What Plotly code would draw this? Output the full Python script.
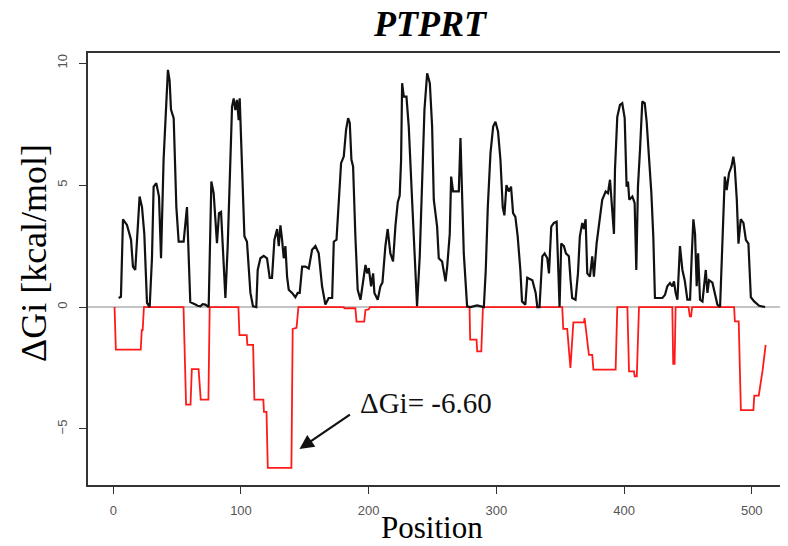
import plotly.graph_objects as go

# Black curve: positive Delta Gi profile (position, value)
black_pos = [4.2, 6, 7.6, 10.7, 13.9, 15.4, 17.2, 18.5, 20.6, 22.5, 24.3, 26.4, 28.5, 30.3, 31.6, 33.7, 35.8, 37.4,
             39.4, 41.0, 42.8, 44.1, 45.2, 47.3, 49.4, 51.2, 55.1, 57.7, 59.0, 60.3, 64.3, 66, 68.2, 70, 72.1, 74.7,
             76.8, 78.6, 81.2, 82.8, 84.4, 86.0, 87.8, 89.6, 91.7, 93.0, 94.3, 95.6, 96.9, 98.2, 99.0, 100.8, 102.7,
             104.7, 107.4, 109.4, 112.0, 113.1, 115.2, 117.8, 120.4, 122.5, 124.3, 126.2, 128.3, 129.6, 130.9, 132.2,
             133.5, 134.8, 136.1, 137.4, 140.0, 142.6, 144.4, 146.0, 147.9, 150.5, 153.1, 155.7, 158.3, 160.9, 163.5,
             166.1, 168.7, 171.4, 172.7, 174.8, 178.4, 180.5, 182.3, 183.9, 185.2, 186.5, 187.8, 189.6, 191.4, 193.6,
             195.6, 197.5, 198.8, 200.1, 201.9, 203.5, 204.5, 207.1, 209.2, 210.8, 213.1, 214.9, 217.0, 219.1, 221.0,
             222.8, 224.3, 225.4, 226.2, 227.5, 229.6, 231.4, 234.0, 236.6, 237.9, 240.0, 241.9, 243.7, 245.8, 247.9,
             249.7, 251.0, 253.6, 254.9, 257.5, 260.2, 261.5, 263.5, 264.6, 266.1, 268.0, 270.6, 271.9, 272.9, 274.5,
             277.1, 279.7, 284.9, 290.2, 291.7, 293.3, 295.4, 297.5, 299.3, 301.3, 303.2, 305.0, 306.3, 307.9, 309.7,
             311.5, 313.1, 314.9, 316.7, 318.8, 320.1, 322.7, 324.2, 328.2, 330.8, 332.1, 333.8, 336.0, 337.8, 339.9,
             341.2, 343.0, 345.1, 347.2, 348.2, 349.5, 350.8, 352.9, 354.5, 356.8, 358.1, 359.4, 362.0, 363.9, 365.4,
             367.3, 368.6, 369.9, 371.2, 373.3, 375.1, 376.4, 378.5, 380.3, 382.9, 385.6, 387.4, 389.0, 390.3, 392.1,
             392.9, 394.7, 396.8, 398.6, 400.5, 402.0, 403.1, 404.1, 406.5, 408.3, 409.6, 410.9, 412.5, 414.3, 416.2,
             417.7, 419.5, 421.4, 422.9, 424.2, 427.4, 430.0, 432.1, 433.9, 436.0, 437.8, 439.1, 440.4, 441.8, 443.8,
             445.7, 447.5, 449.6, 451.7, 453.0, 454.3, 455.6, 456.9, 458.0, 459.5, 461.4, 464.0, 465.3, 466.6, 469.2,
             471.1, 473.1, 475.2, 477.0, 478.9, 480.4, 482.2, 484.1, 485.6, 486.7, 488.3, 489.6, 491.4, 493.5, 495.4,
             497.4, 499.3, 501.9, 505.8, 510.5]
black_val = [0.37, 0.42, 3.6, 3.37, 2.76, 1.66, 1.52, 2.76, 4.53, 4.1, 3.0, 0.17, 0.0, 2.0, 4.94, 5.08, 4.53, 2.0,
             6.04, 7.8, 9.73, 9.3, 8.1, 7.75, 4.1, 2.68, 2.68, 4.1, 2.0, 0.2, 0.1, 0.05, 0.03, 0.12, 0.1, 0.0,
             5.15, 4.67, 2.62, 3.85, 3.9, 1.94, 0.37, 2.5, 6.72, 8.22, 8.56, 8.08, 8.5, 7.67, 8.56, 6.04, 2.9,
             2.68, 0.58, 0.03, 0.0, 1.52, 2.0, 2.1, 2.0, 1.2, 1.2, 2.76, 3.2, 2.5, 3.35, 2.76,
             2.0, 2.5, 1.25, 0.71, 0.58, 0.4, 0.58, 0.58, 1.66, 1.66, 1.58, 2.35, 2.5, 2.2, 0.85,
             0.1, 0.37, 0.37, 2.68, 2.76, 5.9, 6.17, 7.27, 7.75, 7.55, 6.04, 5.77, 2.9, 0.71, 0.3,
             1.12, 1.73, 1.38, 1.6, 0.85, 1.38, 0.58, 0.3, 0.85, 1.0, 2.5, 3.2, 2.2, 1.87, 3.35,
             4.3, 4.57, 6.04, 9.18, 8.63, 8.63, 7.4, 4.4, 1.38, 0.03, 2.08, 5.35, 8.09, 9.59, 9.18,
             7.4, 4.4, 3.3, 2.0, 1.87, 1.05, 1.66, 3.0, 5.35, 4.74, 4.74, 4.74, 6.93, 4.67, 2.2,
             0.03, 0.0, 0.07, 0.0, 1.52, 4.1, 6.31, 7.4, 7.6, 7.2, 6.04, 4.1, 3.76, 5.0, 4.74,
             4.94, 3.85, 3.7, 2.9, 1.52, 0.23, 0.1, 1.2, 1.1, 0.58, 0.0, 0.0, 2.08, 2.2, 2.0,
             1.38, 3.3, 3.45, 3.5, 2.0, 0.0, 2.6, 2.5, 2.2, 2.08, 1.12, 0.37, 0.3, 1.38, 2.9,
             3.45, 3.2, 3.6, 1.38, 1.25, 2.08, 1.25, 2.6, 3.45, 4.4, 4.74, 4.67, 5.22, 4.4, 3.0,
             5.63, 7.8, 8.29, 8.36, 7.75, 4.94, 5.15, 4.4, 4.53, 4.27, 1.52, 4.94, 6.45, 8.43, 8.36,
             7.6, 6.17, 4.67, 2.9, 0.37, 0.37, 0.37, 0.5, 0.85, 0.98, 0.85, 1.05, 0.58, 0.3, 2.5,
             1.52, 1.1, 0.3, 0.3, 2.08, 3.6, 3.0, 0.85, 2.2, 0.3, 0.23, 1.52, 0.58, 1.1, 1.0,
             0.58, 0.1, 0.0, 2.6, 5.35, 4.8, 5.49, 5.76, 6.17, 5.76, 4.4, 2.6, 3.6, 3.45, 2.76,
             2.6, 0.4, 0.23, 0.05, 0.0]

# Red curve: negative Delta Gi segments (position, value)
red_pos = [1, 2, 21.5, 22.3, 23, 24,
           55, 57, 60.5, 61.5, 66.8, 68.5, 74.5, 75.5,
           98, 98.8, 104.5, 105, 109.5, 110.5, 117.5, 118, 120, 121, 139.5, 140.5, 143.5, 145,
           180.5, 181, 189.6, 190.5, 196.5, 197.5, 200, 201,
           279, 279.5, 284.5, 285, 288.2, 289.5,
           351.6, 352.4, 355.5, 358, 360.3, 368.6, 369.1, 370.6, 372.5, 375.1, 376, 393.4, 394.7,
           402.6, 403.9, 407.8, 408.3, 410, 411.7,
           437.8, 438.5, 439.6, 440.4,
           450.5, 451.5, 452.5, 453.3,
           486.2, 486.8, 489.8, 491.5, 501.3, 502, 505.5, 506.5, 507.5, 508.5, 510.9]
red_val = [0, -1.75, -1.75, -0.95, -0.95, 0,
           0, -4.0, -4.0, -2.55, -2.55, -3.8, -3.8, 0,
           0, -1.15, -1.15, -1.55, -1.55, -3.8, -3.8, -4.3, -4.3, -6.6, -6.6, -0.9, -0.85, 0,
           0, -0.05, -0.05, -0.6, -0.6, -0.12, -0.1, 0,
           0, -1.34, -1.34, -1.82, -1.82, 0,
           0, -0.9, -0.9, -2.5, -0.63, -0.63, -0.45, -1.2, -1.96, -1.96, -2.57, -2.57, 0,
           0, -2.64, -2.64, -2.84, -2.84, 0,
           0, -2.33, -2.33, 0,
           0, -0.38, -0.38, 0,
           0, -0.59, -0.59, -4.23, -4.23, -3.63, -3.63, -3.3, -2.84, -2.6, -1.55]

x_ticks = [0, 100, 200, 300, 400, 500]
y_ticks = [-5, 0, 5, 10]

title_text = "PTPRT"
x_title = "Position"
y_title = "ΔGi [kcal/mol]"
min_label = "ΔGi= -6.60"
min_point = (145.8, -5.82)
arrow_tail = (186.5, -4.37)
label_pos = (192, -3.93)

SERIF = "Liberation Serif, Times New Roman, serif"
SANS = "Liberation Sans, Arial, sans-serif"

# The page adds an 8px body margin, so the figure is 8px smaller than the window
OFF = 8
W, H = 788 - OFF, 546 - OFF
PL, PT, PR, PB = 88, 53, 788, 485  # plot area in window pixels
PW, PH = PR - PL, PB - PT

fig = go.Figure()
fig.add_trace(go.Scatter(x=red_pos, y=red_val, mode="lines",
                         line=dict(color="#ff1a1a", width=1.8), showlegend=False))
fig.add_trace(go.Scatter(x=black_pos, y=black_val, mode="lines",
                         line=dict(color="#111111", width=2.2), showlegend=False))

axis_common = dict(showgrid=False, showline=True, linecolor="#333333", linewidth=1.5,
                   ticks="outside", ticklen=7, tickwidth=1.3, tickcolor="#333333",
                   tickfont=dict(family=SANS, size=13, color="#555555"))

fig.update_layout(
    width=W, height=H,
    margin=dict(l=PL - OFF, r=0, t=PT - OFF, b=H - (PB - OFF), pad=0),
    paper_bgcolor="white", plot_bgcolor="white",
    xaxis=dict(range=[-19.8, 528.4], tickvals=x_ticks, zeroline=False, mirror=True,
               ticklabelstandoff=6, **axis_common),
    yaxis=dict(range=[-7.3, 10.42], tickvals=y_ticks, zeroline=True,
               zerolinecolor="#c4c4c4", zerolinewidth=1.5, tickangle=-90,
               ticklabelstandoff=7, **axis_common),
    showlegend=False,
)

fig.add_annotation(x=min_point[0], y=min_point[1], ax=arrow_tail[0], ay=arrow_tail[1],
                   xref="x", yref="y", axref="x", ayref="y", text="", showarrow=True,
                   arrowhead=2, arrowsize=1.3, arrowwidth=2.2, arrowcolor="#111111")
fig.add_annotation(x=label_pos[0], y=label_pos[1], xref="x", yref="y", text=min_label,
                   showarrow=False, xanchor="left", yanchor="middle",
                   font=dict(family=SERIF, size=29, color="#111111"))

# Title and axis titles (positions given in window pixels)
def px(xw):
    return (xw - PL) / PW

def py(yw):
    return (PB - yw) / PH

fig.add_annotation(x=px(430.5), y=py(24), xref="paper", yref="paper",
                   text="<b><i>" + title_text + "</i></b>", showarrow=False,
                   xanchor="center", yanchor="middle",
                   font=dict(family=SERIF, size=36, color="#000000"))
fig.add_annotation(x=px(432), y=py(527), xref="paper", yref="paper",
                   text=x_title, showarrow=False, xanchor="center", yanchor="middle",
                   font=dict(family=SERIF, size=31, color="#000000"))
fig.add_annotation(x=px(34), y=py(253), xref="paper", yref="paper",
                   text=y_title, showarrow=False, xanchor="center", yanchor="middle",
                   textangle=-90, font=dict(family=SERIF, size=36, color="#000000"))

fig.write_html("out.html")
